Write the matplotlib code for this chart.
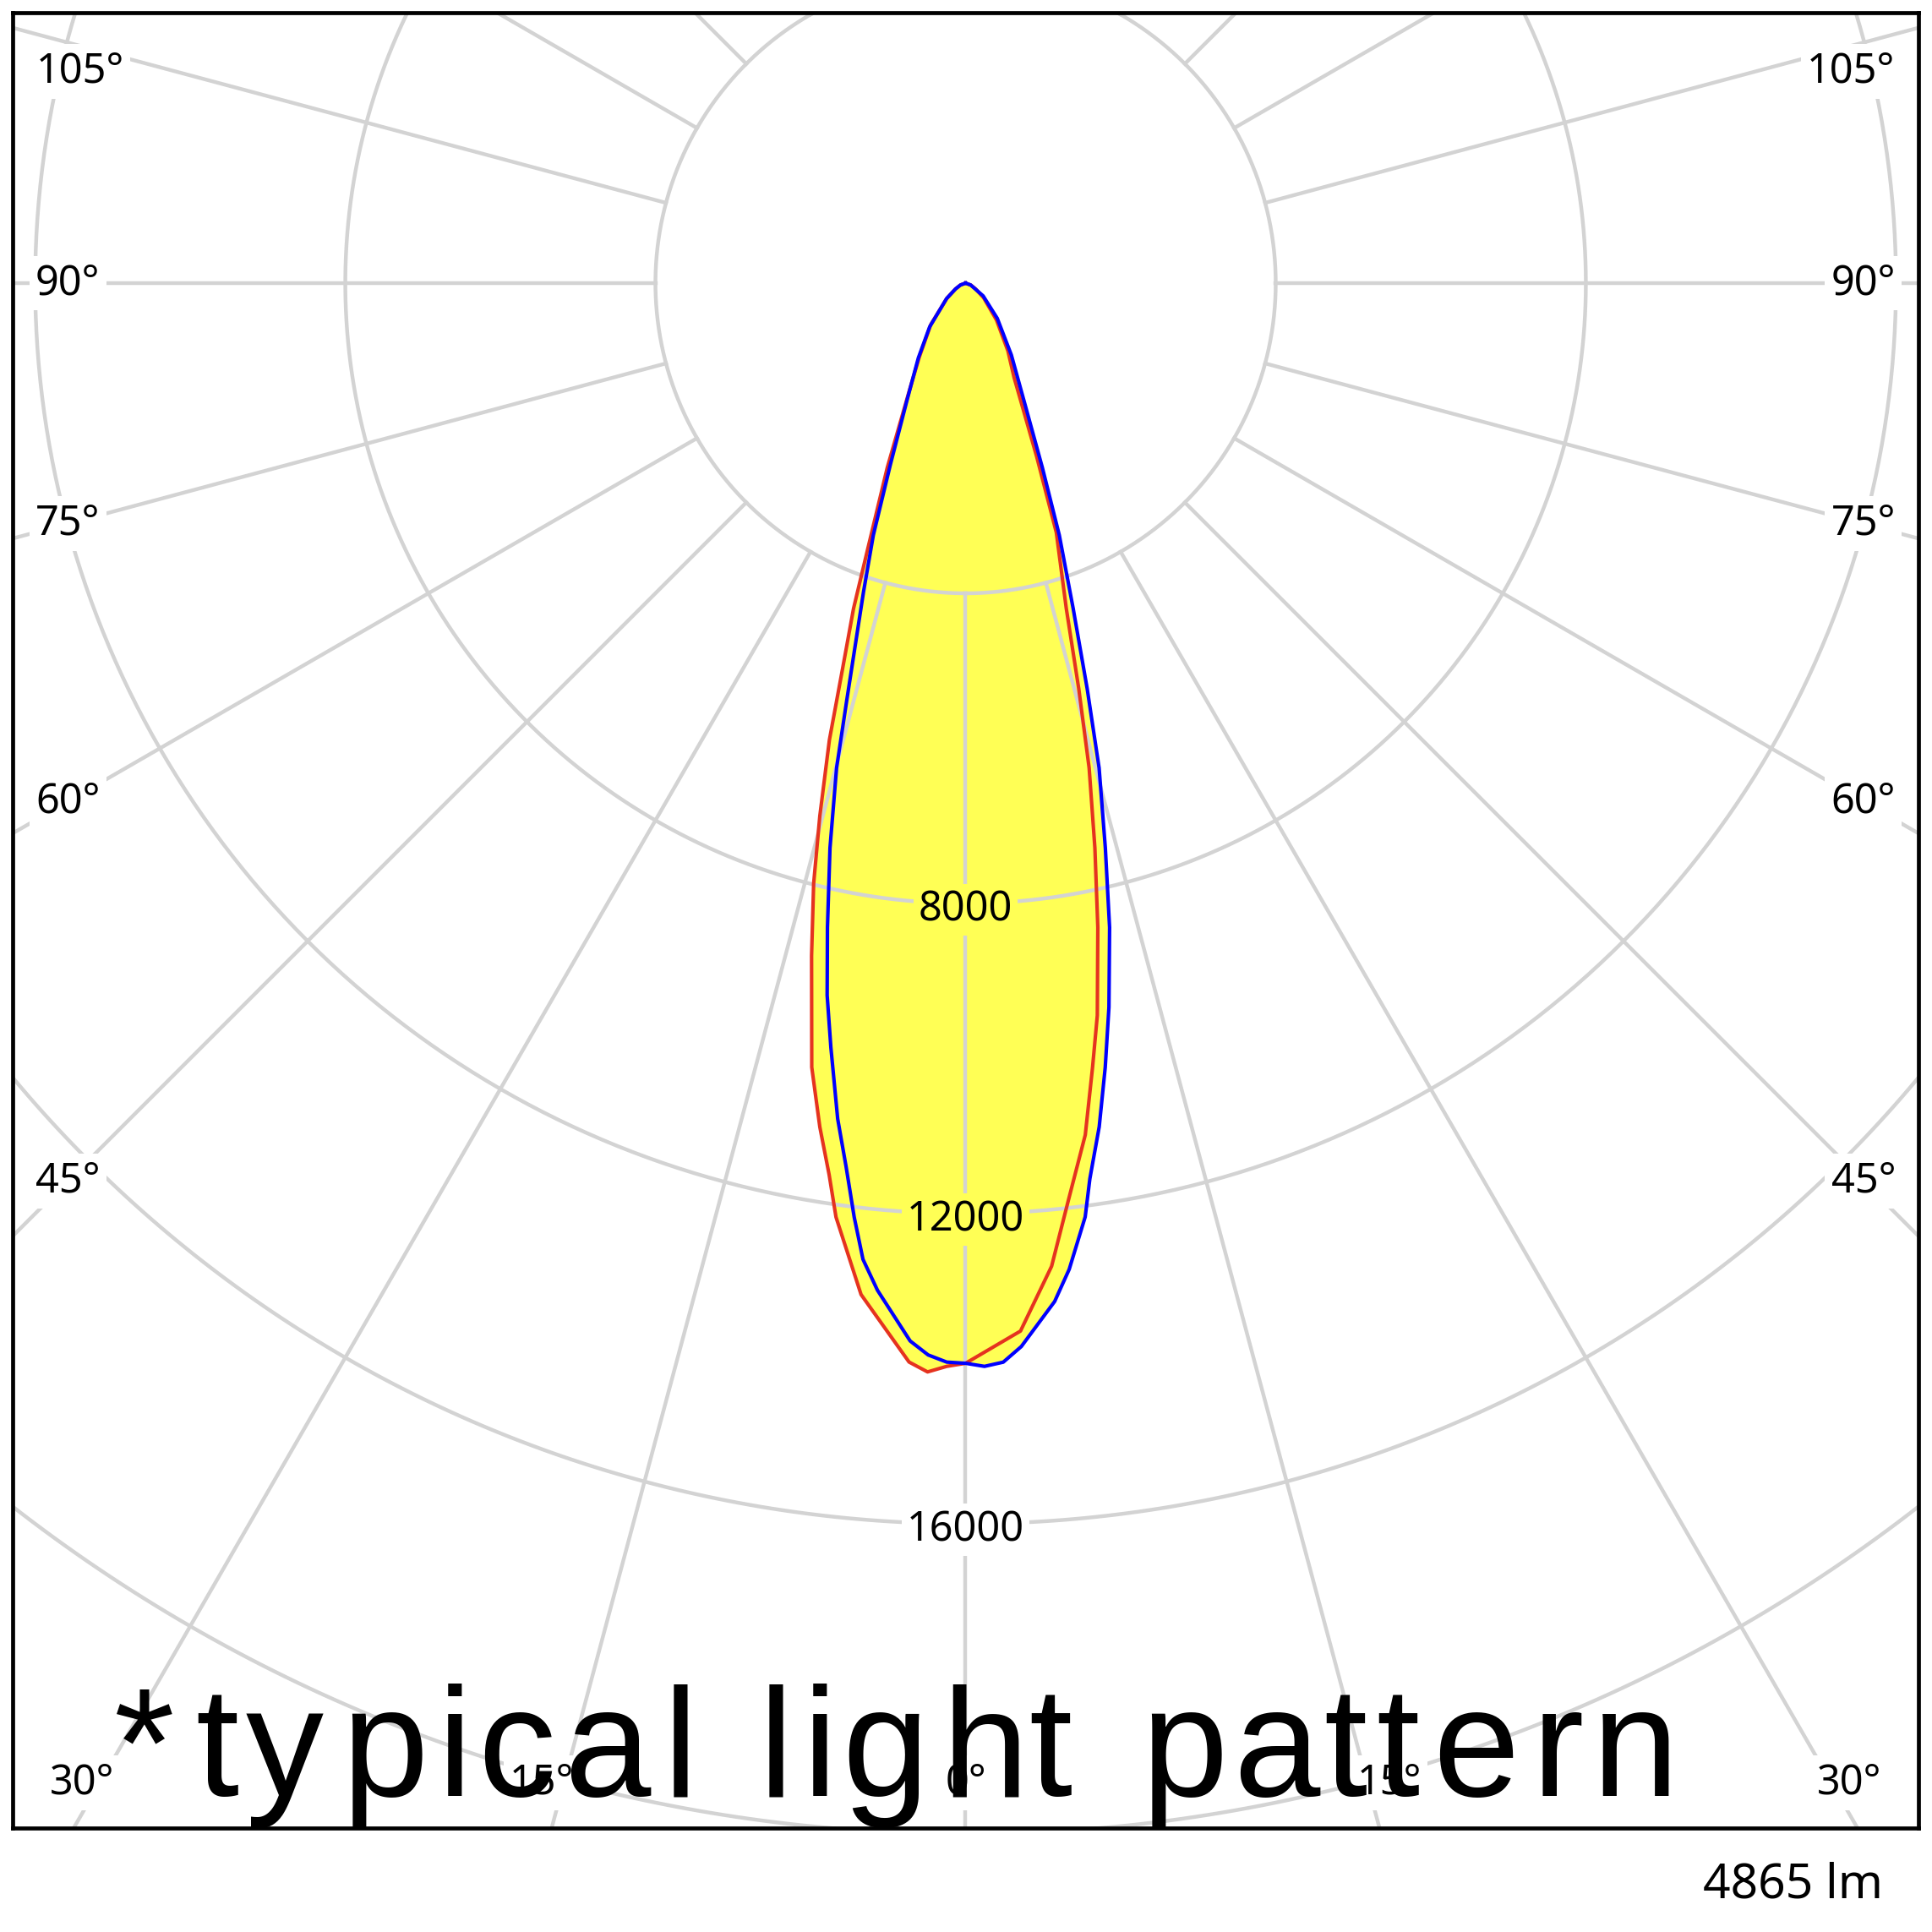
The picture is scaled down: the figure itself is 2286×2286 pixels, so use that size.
import matplotlib
matplotlib.use('Agg')  # no display in the sandbox
import matplotlib.pyplot as plt
import numpy as np
from matplotlib import font_manager
from matplotlib.ft2font import FT2Font

# luminous intensity (cd) against gamma angle (deg, 0 = straight down), two C-planes
gamma_red = [-90, -70, -60, -51, -40, -32, -27.8, -23, -20.2, -19, -17.7, -16.6, -15.3,
             -14.2, -12.9, -11.1, -9.8, -8.7, -7.9, -5.9, -3, -2, -1, 0, 3, 5, 6.4, 8,
             9.2, 10.2, 11.6, 12.9, 14.3, 15.6, 17.2, 20, 22.3, 27.2, 32, 40, 51, 60, 70, 90]
cd_red = [0, 70, 150, 310, 700, 1130, 1540, 2584, 3658, 4438, 5216, 6148, 7124,
          7988, 8897, 10305, 11044, 11633, 12160, 13113, 13933, 14050, 13972, 13930, 13533, 12728, 11900, 11093,
          10244, 9595, 8483, 7470, 6452, 5426, 4393, 3422, 2415, 1369, 1030, 620, 300, 150, 70, 0]

gamma_blue = [-90, -70, -60, -50.9, -39.4, -32.3, -26.6, -22.5, -20.1, -18.3, -15.9, -14.9, -13.5,
              -12.1, -11, -10, -8.7, -7.7, -6.8, -6, -5, -3, -2, -1, 0, 1, 2, 3, 5, 6, 7.3, 7.9,
              9, 10.1, 11.2, 12.6, 13.9, 15.4, 16.7, 18.3, 20.4, 22.6, 26, 32.5, 42, 54, 70, 90]
cd_blue = [0, 70, 150, 316, 729, 1139, 1685, 2537, 3463, 4191, 5594, 6471, 7491,
           8499, 9357, 10006, 10904, 11500, 12131, 12659, 13038, 13661, 13831, 13917, 13930, 13972, 13924, 13733, 13183, 12788, 12141, 11662,
           11017, 10272, 9520, 8515, 7504, 6485, 5456, 4420, 3468, 2577, 1759, 1099, 611, 280, 70, 0]

ring_values = [4000, 8000, 12000, 16000, 20000, 24000]
ring_labels = [8000, 12000, 16000]
spoke_angles = list(range(0, 360, 15))
side_angles = [45, 60, 75, 90, 105]
bottom_angles = [-30, -15, 0, 15, 30]
flux_text = '4865 lm'
note_text = '*typical light pattern'

DPI = 100
W = 2286
GRID = '#d3d3d3'
YELLOW = '#ffff55'
LABEL_FONT = 'Noto Sans'


def to_xy(gamma, cd):
    g = np.radians(np.asarray(gamma, dtype=float))
    cd = np.asarray(cd, dtype=float)
    return cd * np.sin(g), -cd * np.cos(g)


fig = plt.figure(figsize=(W / DPI, W / DPI), dpi=DPI)
# frame: 15..2270 px wide, 15..2163 px from top
ax = fig.add_axes([15 / W, 123 / W, 2255 / W, 2148 / W])
ax.set_xlim(-12290, 12290)
ax.set_ylim(-19924, 3488)
ax.set_xticks([])
ax.set_yticks([])
for s in ax.spines.values():
    s.set_linewidth(3.4)
    s.set_color('black')
    s.set_zorder(10)

# light distribution, filled
xr, yr = to_xy(gamma_red, cd_red)
xb, yb = to_xy(gamma_blue, cd_blue)
ax.fill(xr, yr, color=YELLOW, lw=0, zorder=1)
ax.fill(xb, yb, color=YELLOW, lw=0, zorder=1)

# polar grid
t = np.linspace(0, 360, 721)
for v in ring_values:
    cx, cy = to_xy(t, np.full_like(t, v))
    ax.plot(cx, cy, color=GRID, lw=3.2, zorder=2)
for a in spoke_angles:
    sx, sy = to_xy([a, a], [ring_values[0], 40000])
    ax.plot(sx, sy, color=GRID, lw=3.2, zorder=2)

ax.plot(xr, yr, color='#e5331f', lw=3.0, zorder=3)
ax.plot(xb, yb, color='#0000ff', lw=3.0, zorder=4)

# intensity labels along the 0 deg axis
for v in ring_labels:
    fc = YELLOW if v < max(cd_blue) else 'white'
    ax.text(0, -v - 80, str(v), ha='center', va='center', fontsize=35, family=LABEL_FONT,
            zorder=5, bbox=dict(boxstyle='square,pad=0.12', fc=fc, ec='none'))

# angle labels at the frame sides
for a in side_angles:
    y = -11580 * np.cos(np.radians(a)) / np.sin(np.radians(a))
    x = 11580
    if y > 2730:
        y = 2730
        x = 11420
    for sgn in (-1, 1):
        ax.text(sgn * x, y, f'{a}°', ha='center', va='center', fontsize=35, family=LABEL_FONT,
                zorder=5, bbox=dict(boxstyle='square,pad=0.15', fc='white', ec='none'))

for a in bottom_angles:
    x = float(np.clip(20400 * np.tan(np.radians(a)), -11400, 11400))
    ax.text(x, -19342, f'{abs(a)}°', ha='center', va='center', fontsize=35, family=LABEL_FONT,
            zorder=5, bbox=dict(boxstyle='square,pad=0.15', fc='white', ec='none'))

fig.text(2228 / W, (W - 2245) / W, flux_text, ha='right', va='baseline',
         fontsize=41, family=LABEL_FONT)

# big note, letter-spaced by hand
note_size = 132.5
tracking = 10.6
fp = font_manager.FontProperties(family='Liberation Sans')
font = FT2Font(font_manager.findfont(fp))
font.set_size(note_size, DPI)
first = font.load_char(ord(note_text[0]))
pen = 135 - first.horiBearingX / 64
for i, ch in enumerate(note_text):
    g = font.load_char(ord(ch))
    if ch != ' ':
        fig.text((pen + g.horiBearingX / 64) / W, 161 / W, ch, fontproperties=fp,
                 fontsize=note_size, ha='left', va='baseline', zorder=20)
    pen += g.linearHoriAdvance / 65536 + tracking
    if i == 0:
        pen += 14  # wider gap after the asterisk

fig.savefig('out.png', dpi=DPI, facecolor='white')
